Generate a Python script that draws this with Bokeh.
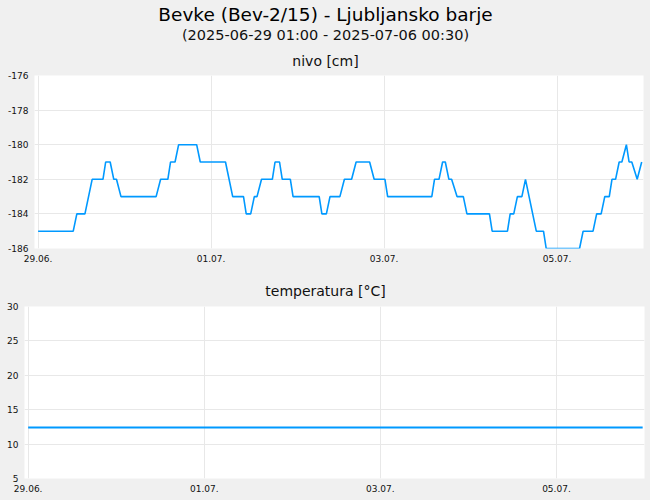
import pandas as pd
from bokeh.plotting import figure
from bokeh.layouts import column
from bokeh.models import (Range1d, FixedTicker, DatetimeTickFormatter, Label,
                          GlobalInlineStyleSheet)
from bokeh.embed import file_html
from bokeh.resources import INLINE

# ---------------- data ----------------
main_title = "Bevke (Bev-2/15) - Ljubljansko barje"
sub_title = "(2025-06-29 01:00 - 2025-07-06 00:30)"
level_title = "nivo [cm]"
temp_title = "temperatura [°C]"

level_times = [
    "2025-06-29 01:00", "2025-06-29 10:45", "2025-06-29 11:45", "2025-06-29 14:00",
    "2025-06-29 16:00", "2025-06-29 19:00", "2025-06-29 19:45", "2025-06-29 21:00",
    "2025-06-29 22:00", "2025-06-29 22:45", "2025-06-30 00:00", "2025-06-30 09:45",
    "2025-06-30 11:00", "2025-06-30 13:00", "2025-06-30 13:45", "2025-06-30 15:00",
    "2025-06-30 16:00", "2025-06-30 21:00", "2025-06-30 22:00", "2025-07-01 05:00",
    "2025-07-01 07:00", "2025-07-01 10:00", "2025-07-01 10:45", "2025-07-01 12:00",
    "2025-07-01 13:00", "2025-07-01 13:45", "2025-07-01 15:00", "2025-07-01 18:00",
    "2025-07-01 18:45", "2025-07-01 20:00", "2025-07-01 20:45", "2025-07-01 23:00",
    "2025-07-01 23:45", "2025-07-02 07:00", "2025-07-02 07:45", "2025-07-02 09:00",
    "2025-07-02 10:00", "2025-07-02 12:45", "2025-07-02 14:00", "2025-07-02 16:00",
    "2025-07-02 17:15", "2025-07-02 21:00", "2025-07-02 22:15", "2025-07-03 01:15",
    "2025-07-03 02:00", "2025-07-03 14:15", "2025-07-03 15:00", "2025-07-03 16:15",
    "2025-07-03 17:15", "2025-07-03 18:00", "2025-07-03 19:00", "2025-07-03 19:45",
    "2025-07-03 21:15", "2025-07-03 23:00", "2025-07-04 00:00", "2025-07-04 06:15",
    "2025-07-04 07:00", "2025-07-04 11:15", "2025-07-04 12:00", "2025-07-04 13:00",
    "2025-07-04 14:00", "2025-07-04 15:15", "2025-07-04 16:15", "2025-07-04 19:15",
    "2025-07-04 21:15", "2025-07-04 22:00", "2025-07-05 07:15", "2025-07-05 08:15",
    "2025-07-05 11:00", "2025-07-05 12:00", "2025-07-05 13:15", "2025-07-05 14:15",
    "2025-07-05 15:30", "2025-07-05 16:15", "2025-07-05 17:15", "2025-07-05 18:15",
    "2025-07-05 19:00", "2025-07-05 20:15", "2025-07-05 21:00", "2025-07-05 21:45",
    "2025-07-05 23:15", "2025-07-06 00:30",
]
level_values = [
    -185, -185, -184, -184,
    -182, -182, -181, -181,
    -182, -182, -183, -183,
    -182, -182, -181, -181,
    -180, -180, -181, -181,
    -183, -183, -184, -184,
    -183, -183, -182, -182,
    -181, -181, -182, -182,
    -183, -183, -184, -184,
    -183, -183, -182, -182,
    -181, -181, -182, -182,
    -183, -183, -182, -182,
    -181, -181, -182, -182,
    -183, -183, -184, -184,
    -185, -185, -184, -184,
    -183, -183, -182, -185,
    -185, -186, -186, -185,
    -185, -184, -184, -183,
    -183, -182, -182, -181,
    -181, -180, -181, -181,
    -182, -181,
]

temp_times = ["2025-06-29 01:00", "2025-07-06 00:30"]
temp_values = [12.4, 12.4]

x_start = "2025-06-29 00:00"
x_end = "2025-07-06 01:00"
tick_times = ["2025-06-29 01:00", "2025-07-01 01:00", "2025-07-03 01:00", "2025-07-05 01:00"]
tick_labels = ["29.06.", "01.07.", "03.07.", "05.07."]

level_ticks = [-186, -184, -182, -180, -178, -176]
temp_ticks = [5, 10, 15, 20, 25, 30]

# ---------------- style ----------------
FONT = "DejaVu Sans"
BG = "#f0f0f0"
GRID = "#e8e8e8"
LINE = "#0099ff"
W = 650

lt = pd.to_datetime(level_times)
tt = pd.to_datetime(temp_times)
tick_ms = [pd.Timestamp(t).value / 1e6 for t in tick_times]
overrides = {float(ms): lab for ms, lab in zip(tick_ms, tick_labels)}
fmt = "%d.%m."


def header(height):
    h = figure(width=W, height=height, x_range=Range1d(0, 1), y_range=Range1d(0, 1),
               x_axis_location=None, y_axis_location=None,
               output_backend="svg", toolbar_location=None,
               min_border_left=0, min_border_right=0,
               min_border_top=0, min_border_bottom=0, frame_align=False)
    h.grid.visible = False
    h.outline_line_color = None
    h.background_fill_color = BG
    h.border_fill_color = BG
    return h


def add_text(p, x, y_from_top, height, text, size, color="#111111"):
    p.add_layout(Label(x=x, y=height - y_from_top, x_units="screen", y_units="screen",
                       text=text, text_font=FONT, text_font_size=size,
                       text_align="center", text_baseline="middle",
                       text_color=color))


def style(p, yticks):
    p.xaxis.ticker = FixedTicker(ticks=tick_ms)
    p.xaxis.formatter = DatetimeTickFormatter(
        milliseconds=fmt, seconds=fmt, minsec=fmt, minutes=fmt, hourmin=fmt,
        hours=fmt, days=fmt, months=fmt, years=fmt)
    p.xaxis.major_label_overrides = overrides
    p.yaxis.ticker = FixedTicker(ticks=yticks)
    p.yaxis.major_label_overrides = {v: str(v) for v in yticks}
    for ax in (p.xaxis, p.yaxis):
        ax.axis_line_color = None
        ax.major_tick_line_color = None
        ax.minor_tick_line_color = None
        ax.major_tick_out = 0
        ax.major_tick_in = 0
        ax.major_label_text_font = FONT
        ax.major_label_text_font_size = "9px"
        ax.major_label_text_color = "#111111"
    p.xaxis.major_label_standoff = 6
    p.yaxis.major_label_standoff = 6
    p.xgrid.grid_line_color = GRID
    p.ygrid.grid_line_color = GRID
    p.outline_line_color = None
    p.background_fill_color = "white"
    p.border_fill_color = BG


# header with titles (page y 0..70)
H1 = 70
h1 = header(H1)
add_text(h1, W / 2, 14, H1, main_title, "18.5px", "black")
add_text(h1, W / 2, 34.5, H1, sub_title, "14.5px")
add_text(h1, W / 2, 60, H1, level_title, "14px")

# water level (page y 70..270, frame 75..248)
p1 = figure(width=W, height=200, x_axis_type="datetime",
            x_range=Range1d(pd.Timestamp(x_start), pd.Timestamp(x_end)),
            y_range=Range1d(-186, -176),
            output_backend="svg", toolbar_location=None,
            min_border_left=34, min_border_right=7,
            min_border_top=5, min_border_bottom=22, frame_align=False)
style(p1, level_ticks)
p1.line(lt, level_values, line_color=LINE, line_width=1.6)

# header for temperature (page y 270..300)
H2 = 30
h2 = header(H2)
add_text(h2, W / 2, 20, H2, temp_title, "14px")

# temperature (page y 300..500, frame 306..478)
p2 = figure(width=W, height=200, x_axis_type="datetime",
            x_range=Range1d(pd.Timestamp(x_start), pd.Timestamp(x_end)),
            y_range=Range1d(5, 30),
            output_backend="svg", toolbar_location=None,
            min_border_left=24, min_border_right=6,
            min_border_top=6, min_border_bottom=22, frame_align=False)
style(p2, temp_ticks)
p2.line(tt, temp_values, line_color=LINE, line_width=2)

layout = column(h1, p1, h2, p2, spacing=0)
layout.stylesheets = [GlobalInlineStyleSheet(css=f"body {{ background: {BG}; }}")]

open("out.html", "w").write(file_html(layout, INLINE))
